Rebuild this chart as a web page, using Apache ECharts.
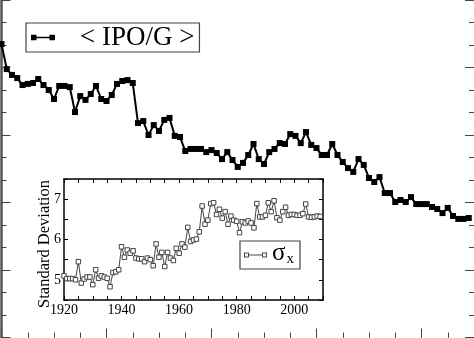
<!DOCTYPE html>
<html>
<head>
<meta charset="utf-8">
<script src="https://cdn.jsdelivr.net/npm/echarts@6/dist/echarts.min.js"></script>
<style>
html,body{margin:0;padding:0;background:#fff;}
#c{width:474px;height:338px;}
</style>
</head>
<body>
<div id="c"></div>
<script>
const years = [1920,1921,1922,1923,1924,1925,1926,1927,1928,1929,
1930,1931,1932,1933,1934,1935,1936,1937,1938,1939,
1940,1941,1942,1943,1944,1945,1946,1947,1948,1949,
1950,1951,1952,1953,1954,1955,1956,1957,1958,1959,
1960,1961,1962,1963,1964,1965,1966,1967,1968,1969,
1970,1971,1972,1973,1974,1975,1976,1977,1978,1979,
1980,1981,1982,1983,1984,1985,1986,1987,1988,1989,
1990,1991,1992,1993,1994,1995,1996,1997,1998,1999,
2000,2001,2002,2003,2004,2005,2006,2007,2008,2009];

// main series <IPO/G> (arbitrary units)
const ipoG = [13.04,11.93,11.67,11.53,11.22,11.27,11.31,11.49,11.22,11.00,
10.60,11.18,11.18,11.13,10.02,10.73,10.56,10.82,11.18,10.60,
10.51,10.78,11.27,11.40,11.44,11.31,9.53,9.62,9.00,9.44,
9.18,9.67,9.76,8.96,8.91,8.29,8.38,8.38,8.38,8.24,
8.33,8.20,7.93,8.24,7.89,7.58,7.76,8.11,8.60,7.93,
7.71,8.24,8.38,8.64,8.60,9.04,8.96,8.64,9.13,8.56,
8.42,8.11,8.11,8.60,8.11,7.80,7.53,7.36,7.93,7.67,
7.09,6.91,7.13,6.42,6.42,6.02,6.11,6.02,6.24,5.93,
5.93,5.93,5.80,5.71,5.53,5.76,5.40,5.27,5.27,5.31];

// inset series: standard deviation sigma_x
const sigmaX = [5.10,5.03,5.03,5.03,5.00,5.45,4.92,5.02,5.07,5.07,
4.88,5.25,5.04,5.10,5.07,5.04,4.83,5.18,5.20,5.25,
5.82,5.56,5.74,5.66,5.72,5.54,5.52,5.52,5.45,5.54,
5.50,5.35,5.89,5.56,5.68,5.33,5.68,5.54,5.48,5.78,
5.66,5.89,5.81,6.30,5.95,5.99,6.01,6.19,6.83,6.38,
6.48,6.89,6.91,6.62,6.75,6.53,6.69,6.38,6.58,6.48,
6.45,6.17,6.44,6.41,6.46,6.41,6.29,6.89,6.56,6.56,
6.60,6.91,6.69,6.96,6.54,6.48,6.69,6.80,6.60,6.62,
6.62,6.60,6.60,6.64,6.88,6.56,6.55,6.56,6.58,6.57];

const insetXLabels = [1920,1940,1960,1980,2000];
const insetYLabels = [5,6,7];

const serif = 'Liberation Serif';
const mainName = '< IPO/G >';
const insetName = 'σx';

const chart = echarts.init(document.getElementById('c'), null, {renderer:'canvas'});

function mainX(pos, show){
  return {type:'value', gridIndex:0, position:pos, min:1920, max:2010, interval:20,
    axisLine:{show:show, lineStyle:{color:'#555', width:2.5}},
    axisTick:{show:true, inside:true, length:9, lineStyle:{color:'#444', width:1}},
    minorTick:{show:true, splitNumber:4, length:5, lineStyle:{color:'#444', width:1}},
    axisLabel:{show:false}, splitLine:{show:false}, minorSplitLine:{show:false}};
}
function mainY(pos, show){
  return {type:'value', gridIndex:0, position:pos, min:0, max:15, interval:3,
    axisLine:{show:show, lineStyle:{color:'#555', width:2.5}},
    axisTick:{show:true, inside:true, length:9, lineStyle:{color:'#444', width:1}},
    minorTick:{show:true, splitNumber:3, length:5, lineStyle:{color:'#444', width:1}},
    axisLabel:{show:false}, splitLine:{show:false}, minorSplitLine:{show:false}};
}
function insetX(pos, labels){
  return {type:'value', gridIndex:1, position:pos, min:1920, max:2010, interval:5,
    axisLine:{show:true, onZero:false, lineStyle:{color:'#000', width:1.5}},
    axisTick:{show:true, inside:true, length:4, lineStyle:{color:'#000', width:1}},
    axisLabel:{show:labels, interval:0, hideOverlap:false, margin:3, color:'#000', fontFamily:serif, fontSize:14,
      formatter:v => insetXLabels.indexOf(v) >= 0 ? String(v) : ''},
    splitLine:{show:false}};
}
function insetY(pos, labels){
  return {type:'value', gridIndex:1, position:pos, min:4.5, max:7.5, interval:0.5,
    name: labels ? 'Standard Deviation' : '', nameLocation:'middle', nameGap:11, nameRotate:90,
    nameMoveOverlap:false,
    nameTextStyle:{color:'#000', fontFamily:serif, fontSize:16.5, padding:[0,9,0,0]},
    axisLine:{show:true, onZero:false, lineStyle:{color:'#000', width:1.5}},
    axisTick:{show:true, inside:true, length:4, lineStyle:{color:'#000', width:1}},
    axisLabel:{show:labels, margin:3, color:'#000', fontFamily:serif, fontSize:14,
      formatter:v => insetYLabels.indexOf(v) >= 0 ? String(v) : ''},
    splitLine:{show:false}};
}

const option = {
  animation:false,
  backgroundColor:'#fff',
  grid:[
    {left:1.5, top:0, width:472.5, height:337.5, show:false},
    {left:64, top:179, width:259, height:121, show:true, backgroundColor:'#fff', borderWidth:0}
  ],
  xAxis:[mainX('bottom', false), mainX('top', false), insetX('bottom', true), insetX('top', false)],
  yAxis:[mainY('left', true), mainY('right', false), insetY('left', true), insetY('right', false)],
  legend:[
    {left:26, top:23, orient:'horizontal', padding:[0,5,0,5],
     backgroundColor:'#fff', borderColor:'#444', borderWidth:1.2,
     itemWidth:24, itemHeight:5.5,
     data:[{name:mainName, icon:'path://M0,0h5.5v5.5h-5.5z M5.5,1.9h13v1.7h-13z M18.5,0h5.5v5.5h-5.5z',
            itemStyle:{color:'#000', borderWidth:0}}],
     textStyle:{fontFamily:serif, fontSize:27, color:'#000', lineHeight:29, padding:[0,0,0,20]}},
    {left:240, top:241, orient:'horizontal', padding:[0,6,0,4],
     backgroundColor:'#fff', borderColor:'#444', borderWidth:1.2,
     itemWidth:23, itemHeight:5,
     data:[{name:insetName, icon:'path://M0,0h5v5h-5z M1,1v3h3v-3z M5,2h13v1h-13z M18,0h5v5h-5z M19,1v3h3v-3z',
            itemStyle:{color:'#444', borderWidth:0}}],
     formatter:() => '{s|σ}{x|x}',
     textStyle:{fontFamily:serif, color:'#000',
       rich:{s:{fontFamily:serif, fontSize:25, color:'#000', lineHeight:20, padding:[0,0,3,0]},
             x:{fontFamily:serif, fontSize:15, color:'#000', lineHeight:15, padding:[8,0,0,1]}}}}
  ],
  series:[
    {name:mainName, type:'line', xAxisIndex:0, yAxisIndex:0,
     data:years.map((y,i)=>[y, ipoG[i]]),
     symbol:'rect', symbolSize:6, showSymbol:true, clip:false,
     lineStyle:{color:'#000', width:2}, itemStyle:{color:'#000'}, z:3},
    {name:insetName, type:'line', xAxisIndex:2, yAxisIndex:2,
     data:years.map((y,i)=>[y, sigmaX[i]]),
     symbol:'rect', symbolSize:4.5, showSymbol:true,
     lineStyle:{color:'#444', width:1}, itemStyle:{color:'#fff', borderColor:'#444', borderWidth:1}, z:4}
  ]
};
chart.setOption(option);
</script>
</body>
</html>
